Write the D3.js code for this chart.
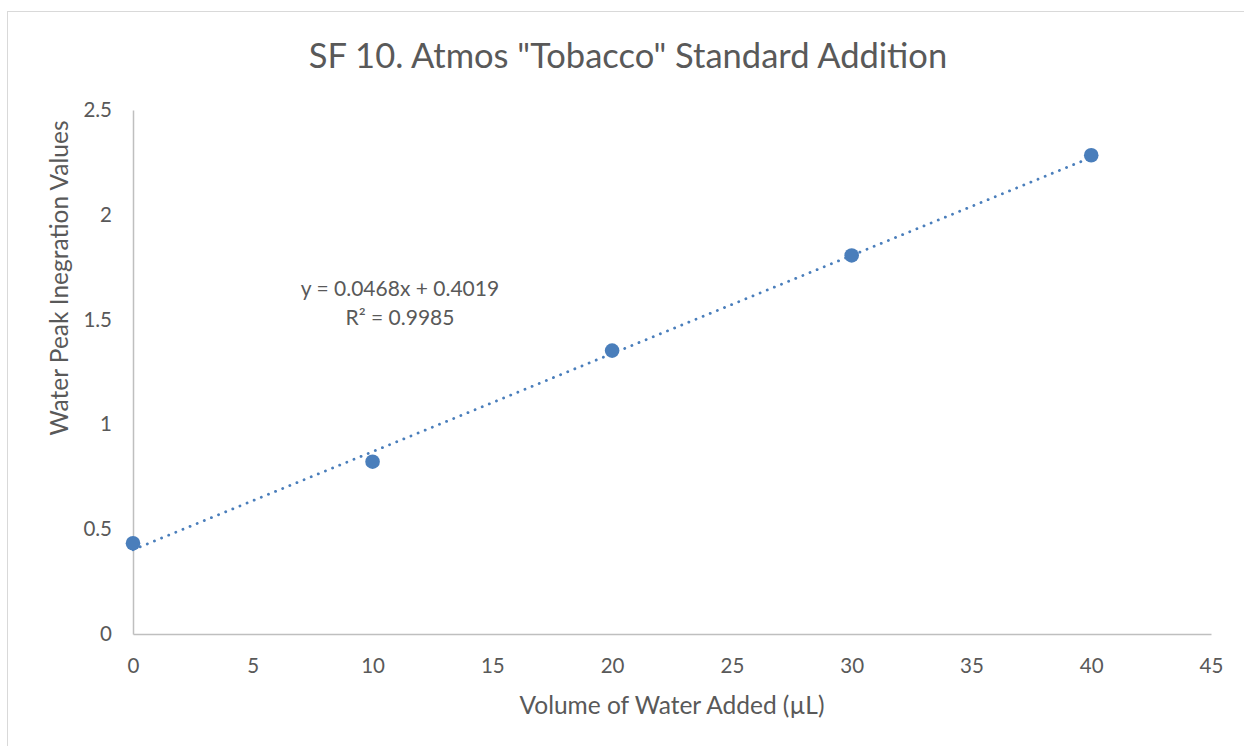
<!DOCTYPE html>
<html>
<head>
<meta charset="utf-8">
<script src="https://cdn.jsdelivr.net/npm/d3@7"></script>
<style>
  body { margin: 0; background: #fff; }
  text { font-family: Lato, "Open Sans", sans-serif; fill: #595959; }
</style>
</head>
<body>
<script>
const volumes = [0, 10, 20, 30, 40]
const peakValues = [0.433, 0.822, 1.352, 1.806, 2.284]
const xTicks = [0, 5, 10, 15, 20, 25, 30, 35, 40, 45]
const yTicks = [0, 0.5, 1, 1.5, 2, 2.5]
const slope = 0.0468
const intercept = 0.4019
const eqLines = ['y = 0.0468x + 0.4019', 'R² = 0.9985']

const width = 1244, height = 746
const margin = { left: 133, right: 33, top: 110, bottom: 112 }

const x = d3.scaleLinear().domain([0, 45]).range([margin.left, width - margin.right])
const y = d3.scaleLinear().domain([0, 2.5]).range([height - margin.bottom, margin.top])

const svg = d3.select('body').append('svg')
    .attr('width', width)
    .attr('height', height)

// chart frame
svg.append('rect')
    .attr('x', 7.5).attr('y', 11.5)
    .attr('width', width).attr('height', height)
    .attr('fill', 'none')
    .attr('stroke', '#d9d9d9')

// axes
const xAxis = svg.append('g')
    .attr('transform', `translate(0,${y(0)})`)
    .call(d3.axisBottom(x).tickValues(xTicks).tickSize(0).tickPadding(24))
xAxis.select('.domain').attr('stroke', '#bfbfbf').attr('stroke-width', 1.5)
xAxis.selectAll('text').style('font-size', '20.5px').attr('fill', '#595959')

const yAxis = svg.append('g')
    .attr('transform', `translate(${x(0)},0)`)
    .call(d3.axisLeft(y).tickValues(yTicks).tickSize(0).tickPadding(21).tickFormat(d3.format('')))
yAxis.select('.domain').attr('stroke', '#bfbfbf').attr('stroke-width', 1.5)
yAxis.selectAll('text').style('font-size', '20.5px').attr('fill', '#595959')

// trendline
svg.append('line')
    .attr('x1', x(0)).attr('y1', y(intercept))
    .attr('x2', x(40)).attr('y2', y(slope * 40 + intercept))
    .attr('stroke', '#4a7ebb')
    .attr('stroke-width', 2.8)
    .attr('stroke-linecap', 'round')
    .attr('stroke-dasharray', '0.1 7.6')

// points
svg.selectAll('.pt')
    .data(volumes.map((v, i) => ({ v, p: peakValues[i] })))
    .enter().append('circle')
    .attr('class', 'pt')
    .attr('cx', d => x(d.v))
    .attr('cy', d => y(d.p))
    .attr('r', 7.3)
    .attr('fill', '#4a7ebb')

// equation label
svg.append('text')
    .attr('x', 400).attr('y', 296)
    .attr('text-anchor', 'middle')
    .style('font-size', '21px')
    .selectAll('tspan')
    .data(eqLines)
    .enter().append('tspan')
    .attr('x', 400)
    .attr('dy', (d, i) => i === 0 ? 0 : 29)
    .text(d => d)

// title
svg.append('text')
    .attr('x', 628).attr('y', 68)
    .attr('text-anchor', 'middle')
    .style('font-size', '34.5px')
    .text('SF 10. Atmos "Tobacco" Standard Addition')

// axis titles
svg.append('text')
    .attr('x', 672).attr('y', 714)
    .attr('text-anchor', 'middle')
    .style('font-size', '24.5px')
    .text('Volume of Water Added (µL)')

svg.append('text')
    .attr('transform', 'translate(68,278) rotate(-90)')
    .attr('text-anchor', 'middle')
    .style('font-size', '24.5px')
    .text('Water Peak Inegration Values')
</script>
</body>
</html>
